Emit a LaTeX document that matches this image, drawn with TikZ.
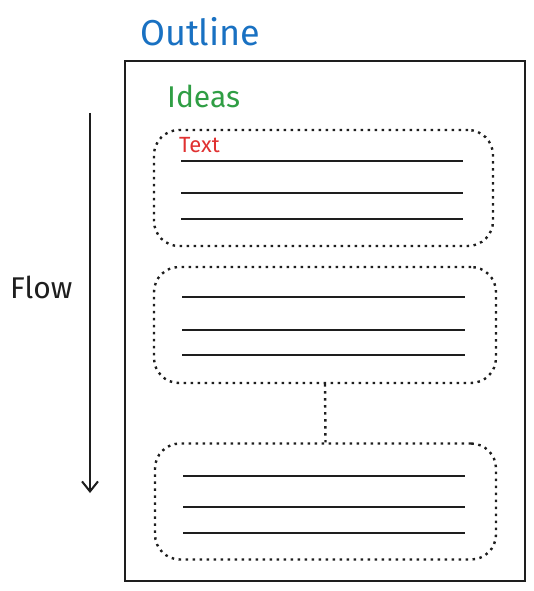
\documentclass[tikz,border=0pt]{standalone}
\usepackage{fontspec}
\setmainfont{Fira Sans}
\usepackage{xcolor}
\usetikzlibrary{arrows.meta}
\definecolor{inkblack}{HTML}{1E1E1E}
\definecolor{titleblue}{HTML}{1971C2}
\definecolor{ideagreen}{HTML}{2F9E44}
\definecolor{textred}{HTML}{E03131}
\tikzset{
  dotline/.style={draw=inkblack,line width=2.4pt,dash pattern=on 2.5pt off 4.5pt},
  ideabox/.style={dotline,rounded corners=25pt,minimum width=#1,minimum height=116pt,inner sep=0pt},
  textline/.style={draw=inkblack,line width=2.4pt},
  label text/.style={anchor=west,inner sep=0pt}
}

\begin{document}
\begin{tikzpicture}[x=1pt,y=-1pt]
    \useasboundingbox (0,0) rectangle (534,591);
    % title and page
    \node[label text,text=titleblue,font=\fontsize{36}{42}\selectfont] (title) at (140,32) {Outline};
    \node[draw=inkblack,line width=2pt,minimum width=400pt,minimum height=520pt,inner sep=0pt] (page) at (325,321) {};
    \node[label text,text=ideagreen,font=\fontsize{30}{36}\selectfont] (ideas) at (167,96) {Ideas};
    % the three blocks
    \node[ideabox=339pt] (box1) at (323.5,188) {};
    \node[ideabox=342pt] (box2) at (325,325) {};
    \node[ideabox=341pt] (box3) at (325.5,501.5) {};
    \node[label text,text=textred,font=\fontsize{22}{26}\selectfont] (txt) at (179,145) {Text};
    \foreach \y in {161,193,219} \draw[textline] (181,\y) -- (463,\y);
    \foreach \y in {297,330,355} \draw[textline] (182,\y) -- (465,\y);
    \foreach \y in {476,507,533} \draw[textline] (183,\y) -- (465,\y);
    \draw[dotline] (box2.south) -- (box3.north);
    % flow arrow
    \coordinate (flowtop) at (90,113);
    \coordinate (flowend) at (90,493);
    \draw[inkblack,line width=2pt,-{Straight Barb[length=10pt,width=16pt]}] (flowtop) -- (flowend);
    \node[label text,text=inkblack,font=\fontsize{30}{36}\selectfont] (flow) at (10,287) {Flow};
\end{tikzpicture}
\end{document}
